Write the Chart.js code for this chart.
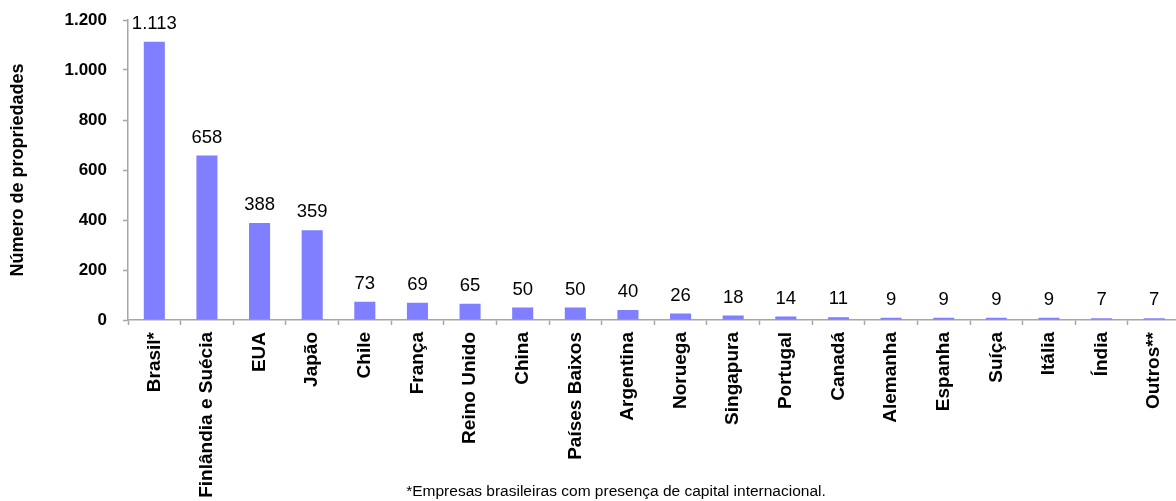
<!DOCTYPE html>
<html lang="pt-BR">
<head>
<meta charset="utf-8">
<title>Número de propriedades por país</title>
<script src="https://cdn.jsdelivr.net/npm/chart.js@4/dist/chart.umd.min.js"></script>
<style>
  html, body { margin: 0; padding: 0; background: #fff; overflow: hidden; }
  #wrap { position: relative; width: 1184px; height: 501px; }
</style>
</head>
<body>
<div id="wrap"><canvas id="chart" width="1184" height="501"></canvas></div>
<script>
// Países de origem do capital
const categories = [
  'Brasil*', 'Finlândia e Suécia', 'EUA', 'Japão', 'Chile', 'França',
  'Reino Unido', 'China', 'Países Baixos', 'Argentina', 'Noruega',
  'Singapura', 'Portugal', 'Canadá', 'Alemanha', 'Espanha', 'Suíça',
  'Itália', 'Índia', 'Outros**'
];

// Número de propriedades
const propriedades = [1113, 658, 388, 359, 73, 69, 65, 50, 50, 40, 26, 18, 14, 11, 9, 9, 9, 9, 7, 7];

// Marcas do eixo vertical
const yTicks = [0, 200, 400, 600, 800, 1000, 1200];

const yTitle = 'Número de propriedades';
const footnote = '*Empresas brasileiras com presença de capital internacional.';

const FONT = '"Liberation Sans", Arial, Helvetica, sans-serif';
const AXIS_GRAY = '#a6a6a6';

// Separador de milhar com ponto
function fmt(v) {
  return String(Math.round(v)).replace(/\B(?=(\d{3})+(?!\d))/g, '.');
}

// Rótulos de valor acima das barras e nota de rodapé
const valueLabels = {
  id: 'valueLabels',
  afterDatasetsDraw(chart) {
    const { ctx } = chart;
    const meta = chart.getDatasetMeta(0);
    const yScale = chart.scales.y;
    ctx.save();
    ctx.fillStyle = '#000';
    ctx.font = '18.5px ' + FONT;
    ctx.textAlign = 'center';
    ctx.textBaseline = 'alphabetic';
    meta.data.forEach((bar, i) => {
      const v = propriedades[i];
      const top = yScale.getPixelForValue(v);
      ctx.fillText(fmt(v), bar.x, top - 13);
    });
    ctx.font = '15.5px ' + FONT;
    ctx.fillText(footnote, 616, 496);
    ctx.restore();
  }
};

new Chart(document.getElementById('chart'), {
  type: 'bar',
  data: {
    labels: categories,
    datasets: [{
      data: propriedades,
      backgroundColor: '#7f7fff',
      borderWidth: 0,
      barPercentage: 0.4,
      categoryPercentage: 1.0
    }]
  },
  options: {
    responsive: false,
    animation: false,
    layout: { padding: { top: 20, right: 0, bottom: 0, left: 0 } },
    plugins: {
      legend: { display: false },
      tooltip: { enabled: false }
    },
    scales: {
      x: {
        offset: true,
        border: { display: true, color: AXIS_GRAY, width: 1.5 },
        grid: {
          display: true,
          offset: true,
          drawOnChartArea: false,
          drawTicks: true,
          tickLength: 5,
          tickWidth: 1.5,
          color: AXIS_GRAY
        },
        ticks: {
          autoSkip: false,
          maxRotation: 90,
          minRotation: 90,
          padding: 7,
          color: '#000',
          font: { family: FONT, size: 19, weight: 'bold' }
        },
        afterFit(scale) {
          scale.height = 181;
          scale.paddingTop = 0;
          scale.paddingBottom = 0;
        }
      },
      y: {
        min: 0,
        max: 1200,
        afterBuildTicks(scale) { scale.ticks = yTicks.map(v => ({ value: v })); },
        border: { display: true, color: AXIS_GRAY, width: 1.5 },
        grid: {
          display: true,
          drawOnChartArea: false,
          drawTicks: true,
          tickLength: 5,
          tickWidth: 1.5,
          color: AXIS_GRAY
        },
        ticks: {
          padding: 16,
          color: '#000',
          font: { family: FONT, size: 17, weight: 'bold' },
          callback: v => fmt(v)
        },
        title: {
          display: true,
          text: yTitle,
          color: '#000',
          padding: { top: 7, bottom: 0 },
          font: { family: FONT, size: 18, weight: 'bold' }
        },
        afterFit(scale) {
          scale.width = 128;
          scale.paddingTop = 0;
          scale.paddingBottom = 0;
        }
      }
    }
  },
  plugins: [valueLabels]
});
</script>
</body>
</html>
